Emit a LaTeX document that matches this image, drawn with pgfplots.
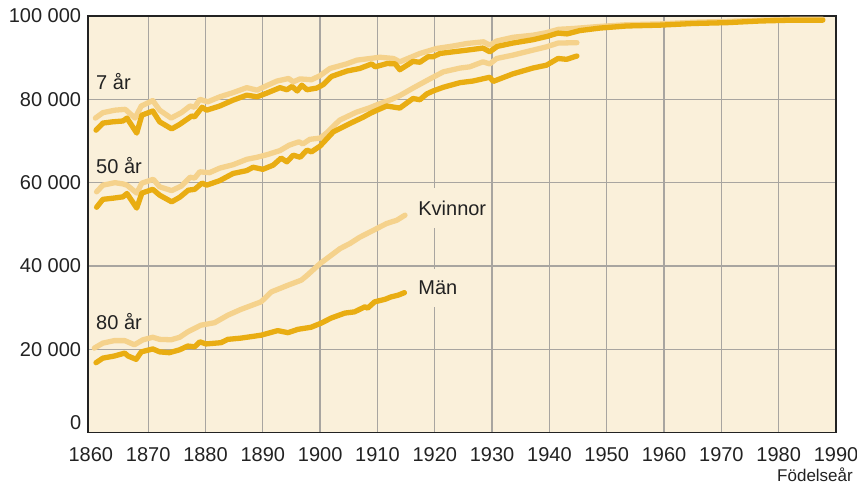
\documentclass[border=0pt]{standalone}
\usepackage{fontspec}
\setmainfont{Liberation Sans}
\usepackage{pgfplots}
\pgfplotsset{compat=1.18}
\definecolor{bg}{HTML}{FAF0DA}
\definecolor{men}{HTML}{E9AD12}
\definecolor{women}{HTML}{F5D28C}
\definecolor{gridc}{HTML}{A8A5A0}
\definecolor{txt}{HTML}{222222}

\begin{document}
\fontsize{20bp}{24bp}\selectfont
\begin{tikzpicture}[x=1bp,y=1bp]
\useasboundingbox (-88,-53.3) rectangle (769,432.7);
\begin{axis}[
  name=ax,
  at={(0,0)}, anchor=south west,
  scale only axis, width=748bp, height=416.7bp,
  xmin=1859.5, xmax=1990, ymin=0, ymax=100000,
  xtick={1870,1880,...,1990},
  extra x ticks={1860}, extra x tick style={grid=none},
  ytick={0,20000,...,100000},
  scaled y ticks=false,
  yticklabels={\raisebox{20bp}{0},20 000,40 000,60 000,80 000,100 000},
  /pgf/number format/1000 sep={},
  /pgf/number format/assume math mode=true,
  tick label style={font=\fontsize{20bp}{24bp}\selectfont, text=txt},
  xticklabel style={yshift=-8bp},
  major tick length=0pt,
  grid=major,
  grid style={draw=gridc, line width=1.3bp},
  axis line style={draw=txt, line width=1.5bp},
  axis background/.style={fill=bg},
  every axis plot/.append style={line width=5.3bp, line join=round, line cap=round},
]
% 7 år
\addplot[women] coordinates {(1860.8,75500) (1862.1,76800) (1864.2,77400) (1866,77600) (1867.7,75500) (1868.8,78400) (1870.8,79700) (1872,77400) (1874,75500) (1875.8,76800) (1877.3,78400) (1878.1,78100) (1879,80000) (1880.4,79400) (1882.5,80600) (1884.8,81600) (1887.2,82800) (1889,82200) (1890.7,83300) (1892.5,84400) (1894.5,85000) (1895.3,84200) (1896.5,84900) (1898.5,84700) (1900,85700) (1901.7,87400) (1904.6,88500) (1906.4,89400) (1908.7,89800) (1910.4,90100) (1912.8,89800) (1913.9,89000) (1917.4,91000) (1920.3,92200) (1923.2,92800) (1925.6,93400) (1928.5,93800) (1929.6,93000) (1930.8,94000) (1933.7,94900) (1937.2,95400) (1939.5,96000) (1941.6,96800) (1944.2,97000) (1948.8,97500) (1953.5,97900) (1959.3,98100) (1965.1,98500) (1971,98700) (1976.8,99000) (1982.5,99200) (1987.7,99200)};
\addplot[men] coordinates {(1860.9,72600) (1862.1,74300) (1863.8,74600) (1865.6,74800) (1866.3,75500) (1868,71900) (1868.9,76200) (1870.8,77200) (1872,74600) (1874.1,72900) (1875.5,74000) (1877.6,76000) (1878.1,75800) (1879.4,78100) (1880.2,77400) (1882.5,78400) (1884.8,79800) (1887.2,81000) (1889,80600) (1890.7,81500) (1893,82800) (1894.2,82300) (1895.1,83100) (1896,82000) (1896.8,83400) (1897.7,82300) (1899.4,82700) (1900.5,83500) (1902,85500) (1904.7,86800) (1906.9,87400) (1909,88500) (1909.6,87800) (1911.7,88600) (1913.1,88500) (1913.9,87100) (1916.2,89100) (1917.4,88900) (1918.8,90200) (1919.7,90200) (1920.9,91000) (1923.2,91400) (1925.6,91800) (1928.4,92300) (1929.6,91400) (1930.9,92700) (1933.6,93500) (1937.1,94300) (1939.6,95100) (1941.5,95900) (1943.1,95700) (1945.3,96500) (1948.8,97100) (1953.5,97600) (1959.3,97800) (1965.1,98200) (1971,98400) (1976.8,98800) (1982.5,99000) (1987.7,99000)};
% 50 år
\addplot[women] coordinates {(1861,57800) (1862.1,59400) (1864.2,60000) (1865.6,59700) (1866.3,59400) (1868,57500) (1868.9,59900) (1870.9,60800) (1872,59000) (1874.1,58100) (1875.8,59200) (1877.3,61300) (1878.1,61100) (1879,62600) (1880.7,62400) (1882.5,63500) (1884.8,64300) (1887.2,65600) (1889,66100) (1890.7,66700) (1893,67700) (1894.6,69000) (1896.3,69800) (1897,69300) (1898.2,70400) (1900,70700) (1901.1,71900) (1903.4,75000) (1906.3,76900) (1908.5,77900) (1910.3,78900) (1912.5,80000) (1913.9,80900) (1916.2,82700) (1919,84800) (1921.5,86600) (1924.4,87500) (1926.1,87800) (1928.4,89000) (1929.6,88500) (1930.8,89800) (1933.6,90600) (1937.1,91800) (1939.5,92600) (1941.5,93500) (1944.8,93600)};
\addplot[men] coordinates {(1861,54100) (1862.1,56000) (1864,56300) (1865.6,56600) (1866.3,57400) (1868,53900) (1868.9,57500) (1870.8,58400) (1872,57000) (1874.1,55400) (1875.5,56500) (1877,58200) (1878.1,58400) (1879.4,59900) (1880.2,59400) (1882.5,60500) (1884.8,62200) (1887.2,62900) (1888.3,63700) (1890,63200) (1891.8,64200) (1893.2,65900) (1894.2,65000) (1895.3,66600) (1896.5,66100) (1897.7,67800) (1898.5,67400) (1900,68800) (1902.3,72200) (1905.2,74200) (1907.5,75700) (1908.7,76600) (1909.3,77000) (1911.6,78400) (1913.9,77900) (1916.2,80200) (1917.4,79900) (1918.6,81300) (1919.7,82000) (1921.5,82900) (1924.4,84000) (1926.7,84400) (1929.6,85300) (1930.2,84300) (1933.6,86100) (1937.1,87500) (1939.5,88200) (1941.5,89800) (1943,89600) (1944.8,90400)};
% 80 år
\addplot[women] coordinates {(1860.6,20300) (1862.1,21500) (1864.1,22100) (1865.9,22100) (1867.6,21100) (1869.1,22300) (1870.8,22900) (1872,22400) (1874,22300) (1875.5,22900) (1876.9,24200) (1879.2,25800) (1881.6,26400) (1883.9,28200) (1886.2,29600) (1889.7,31400) (1891.5,33800) (1894.4,35400) (1896.7,36600) (1897.6,37600) (1900,40600) (1903.5,44200) (1905.2,45400) (1906.9,46900) (1909.9,49000) (1911.6,50200) (1913.4,51000) (1914.8,52200)};
\addplot[men] coordinates {(1860.9,16800) (1862.1,17900) (1864.1,18400) (1865.9,19100) (1866.5,18400) (1867.9,17600) (1868.8,19400) (1870.8,20100) (1872,19400) (1873.7,19200) (1875.5,19900) (1876.9,20800) (1878.1,20600) (1879,21800) (1880.1,21300) (1882.7,21600) (1883.9,22400) (1886.2,22700) (1889.7,23400) (1892.6,24500) (1894.4,24000) (1896.1,24800) (1898.4,25300) (1900.2,26300) (1901.9,27500) (1904.3,28700) (1906,29000) (1907.8,30200) (1908.3,29900) (1909.5,31400) (1911.3,32000) (1912.4,32600) (1913.6,33000) (1914.7,33600)};
% labels
\node[anchor=west, inner xsep=0pt, text=txt] at (axis cs:1860.9,84170) {7 år};
\node[anchor=west, inner xsep=0pt, text=txt] at (axis cs:1860.9,64000) {50 år};
\node[anchor=west, inner xsep=0pt, text=txt] at (axis cs:1860.9,26570) {80 år};
\node[anchor=west, inner xsep=0pt, inner ysep=13bp, fill=bg, text=txt] at (axis cs:1917.1,53930) {Kvinnor};
\node[anchor=west, inner xsep=0pt, inner ysep=12bp, fill=bg, text=txt] at (axis cs:1917.1,34730) {Män};
\end{axis}
\node[anchor=east, inner sep=0pt, text=txt, font=\fontsize{17bp}{20bp}\selectfont] at ([xshift=17bp,yshift=-42bp]ax.south east) {Födelseår};
\end{tikzpicture}
\end{document}
